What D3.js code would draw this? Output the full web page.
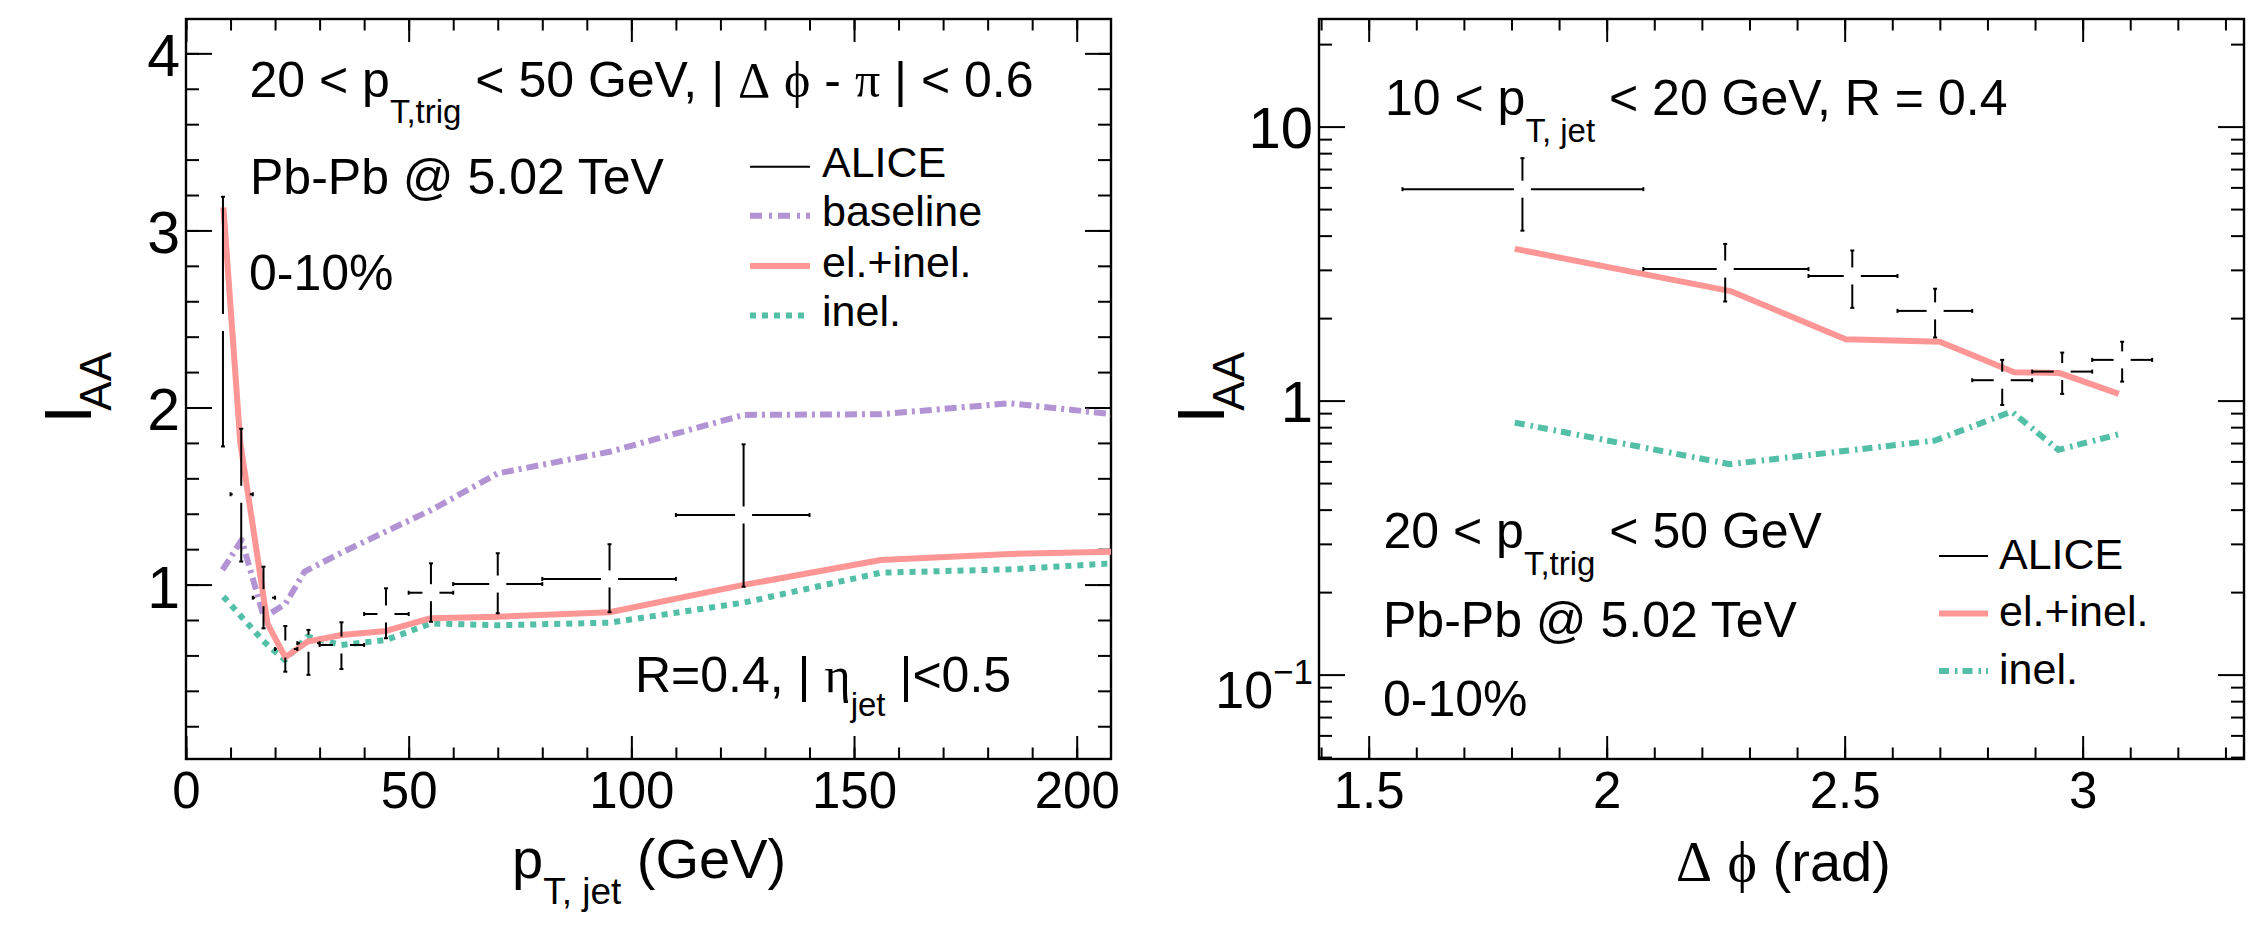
<!DOCTYPE html>
<html><head><meta charset="utf-8">
<script src="https://cdn.jsdelivr.net/npm/d3@7"></script>
<style>
body{margin:0;background:#fff}
svg{display:block}
text{font-family:"Liberation Sans",Arial,Helvetica,sans-serif;white-space:pre;fill:#000}
</style></head>
<body><svg id="c" width="2266" height="943"></svg>
<script>
// ---------------- DATA: left panel (I_AA vs pT,jet) ----------------
const alicePt      = [8.3, 12.4, 17.4, 22.3, 27.5, 34.9, 44.9, 55.0, 70.0, 95.1, 125.2];
const alicePtLo    = [7, 10, 15, 20, 25, 30, 40, 50, 60, 80, 110];
const alicePtHi    = [10, 15, 20, 25, 30, 40, 50, 60, 80, 110, 140];
const aliceIaaPt   = [2.48, 1.51, 0.926, 0.636, 0.669, 0.659, 0.834, 0.954, 1.003, 1.032, 1.393];
const aliceIaaPtLo = [1.78, 1.13, 0.753, 0.508, 0.49, 0.523, 0.697, 0.790, 0.838, 0.844, 0.988];
const aliceIaaPtHi = [3.19, 1.88, 1.101, 0.766, 0.744, 0.787, 0.979, 1.120, 1.177, 1.228, 1.792];

const elinelPtX = [8.4, 12.2, 18.3, 22.3, 27.3, 34.9, 44.9, 55.0, 70.0, 95.1, 125.2, 156.0, 185.0, 208.0];
const elinelPtY = [3.13, 1.80, 0.78, 0.589, 0.678, 0.715, 0.738, 0.810, 0.819, 0.844, 0.998, 1.139, 1.173, 1.186];
const baselinePtX = [8.2, 12.5, 17.5, 22.3, 26.6, 34.9, 44.9, 55.0, 70.0, 95.1, 125.2, 156.0, 185.0, 208.0];
const baselinePtY = [1.083, 1.252, 0.815, 0.89, 1.073, 1.18, 1.30, 1.42, 1.628, 1.75, 1.958, 1.962, 2.024, 1.962];
const inelPtX = [8.4, 17.4, 22.2, 27.3, 34.9, 44.9, 55.0, 70.0, 95.1, 125.2, 156.0, 185.0, 208.0];
const inelPtY = [0.932, 0.68, 0.574, 0.706, 0.659, 0.687, 0.781, 0.77, 0.785, 0.898, 1.067, 1.086, 1.12];

const ptMajorTicks = [0, 50, 100, 150, 200];
const ptMinorTicks = d3.range(0, 208, 10);
const iaaMajorTicks = [1, 2, 3, 4];
const iaaMinorTicks = d3.range(0.2, 4.19, 0.2);

// ---------------- DATA: right panel (I_AA vs delta phi) ----------------
const aliceDphi     = [1.823, 2.249, 2.516, 2.690, 2.831, 2.957, 3.083];
const aliceDphiLo   = [1.571, 2.077, 2.424, 2.611, 2.768, 2.894, 3.020];
const aliceDphiHi   = [2.077, 2.424, 2.611, 2.768, 2.894, 3.020, 3.146];
const aliceIaaPhi   = [5.91, 3.02, 2.85, 2.125, 1.187, 1.276, 1.408];
const aliceIaaPhiLo = [4.17, 2.30, 2.18, 1.70, 0.964, 1.058, 1.173];
const aliceIaaPhiHi = [7.67, 3.73, 3.53, 2.56, 1.408, 1.497, 1.64];

const elinelPhiX = [1.807, 2.260, 2.502, 2.700, 2.856, 2.952, 3.076];
const elinelPhiY = [3.58, 2.51, 1.675, 1.64, 1.27, 1.26, 1.058];
const inelPhiX = [1.807, 2.259, 2.690, 2.851, 2.949, 3.076];
const inelPhiY = [0.831, 0.586, 0.715, 0.912, 0.661, 0.754];

const phiMajorTicks = [1.5, 2, 2.5, 3];
const phiMinorTicks = d3.range(1.4, 3.34, 0.1);
const logMajorTicks = [0.1, 1, 10];
const logMinorTicks = [0.05,0.06,0.07,0.08,0.09,0.2,0.3,0.4,0.5,0.6,0.7,0.8,0.9,2,3,4,5,6,7,8,9,20];

// ---------------- STYLE ----------------
const SALMON = '#ff9696', TEAL = '#52bfa6', PURPLE = '#b293d4';
const SERIF = '"Liberation Serif","DejaVu Serif",serif';
const TOP = 19, BOT = 759;

const svg = d3.select('#c');

// scales
const xL = d3.scaleLinear().domain([0, 207.7]).range([186, 1111]);
const yL = d3.scaleLinear().domain([0.015, 4.194]).range([BOT, TOP]);
const xR = d3.scaleLinear().domain([1.3956, 3.339]).range([1319, 2244]);
const yR = d3.scaleLog().domain([0.0492, 24.7]).range([BOT, TOP]);

// clip paths
const defs = svg.append('defs');
defs.append('clipPath').attr('id','clipL').append('rect').attr('x',186).attr('y',TOP).attr('width',925).attr('height',BOT-TOP);
defs.append('clipPath').attr('id','clipR').append('rect').attr('x',1319).attr('y',TOP).attr('width',925).attr('height',BOT-TOP);

function styleAxis(g){
  g.select('.domain').remove();
  g.selectAll('.tick line').attr('stroke','#000').attr('stroke-width',2);
  g.attr('font-family',null).attr('font-size',null);
}

function drawAxes(x, y, xMaj, xMin, yMaj, yMin, xFmt, yFmt, xFs, yFs){
  const x0 = x.range()[0], x1 = x.range()[1];
  // bottom
  svg.append('g').attr('transform',`translate(0,${BOT})`)
    .call(d3.axisBottom(x).tickValues(xMin).tickSize(-11.5).tickFormat('')).call(styleAxis);
  const gb = svg.append('g').attr('transform',`translate(0,${BOT})`)
    .call(d3.axisBottom(x).tickValues(xMaj).tickSize(-23).tickPadding(13).tickFormat(xFmt)).call(styleAxis);
  gb.selectAll('text').attr('font-size',xFs).attr('fill','#000');
  // top
  svg.append('g').attr('transform',`translate(0,${TOP})`)
    .call(d3.axisTop(x).tickValues(xMin).tickSize(-11.5).tickFormat('')).call(styleAxis);
  svg.append('g').attr('transform',`translate(0,${TOP})`)
    .call(d3.axisTop(x).tickValues(xMaj).tickSize(-23).tickFormat('')).call(styleAxis);
  // left
  svg.append('g').attr('transform',`translate(${x0},0)`)
    .call(d3.axisLeft(y).tickValues(yMin).tickSize(-13).tickFormat('')).call(styleAxis);
  const gl = svg.append('g').attr('transform',`translate(${x0},0)`)
    .call(d3.axisLeft(y).tickValues(yMaj).tickSize(-26).tickPadding(6).tickFormat(yFmt || '')).call(styleAxis);
  gl.selectAll('text').attr('font-size',yFs).attr('dy','0.38em').attr('fill','#000');
  // right
  svg.append('g').attr('transform',`translate(${x1},0)`)
    .call(d3.axisRight(y).tickValues(yMin).tickSize(-13).tickFormat('')).call(styleAxis);
  svg.append('g').attr('transform',`translate(${x1},0)`)
    .call(d3.axisRight(y).tickValues(yMaj).tickSize(-26).tickFormat('')).call(styleAxis);
  // frame
  svg.append('rect').attr('x',x0).attr('y',TOP).attr('width',x1-x0).attr('height',BOT-TOP)
    .attr('fill','none').attr('stroke','#000').attr('stroke-width',2.4);
}

function rich(x, y, parts, g){
  const t = (g || svg).append('text').attr('x',x).attr('y',y);
  let cur = 0;
  parts.forEach(p => {
    const s = t.append('tspan').text(p.t).attr('font-size', p.s);
    if (p.f) s.attr('font-family', p.f);
    if (p.x !== undefined) s.attr('x', p.x);
    const d = (p.dy || 0) - cur;
    if (d) s.attr('dy', d);
    cur = p.dy || 0;
  });
  return t;
}

function drawErrors(g, x, y, xc, xlo, xhi, yc, ylo, yhi){
  const gap = 8.5, cap = 2;
  const seg = (x1,y1,x2,y2) => g.append('line').attr('x1',x1).attr('y1',y1).attr('x2',x2).attr('y2',y2)
      .attr('stroke','#000').attr('stroke-width',2);
  xc.forEach((v,i) => {
    const px = x(v), py = y(yc[i]);
    const pl = x(xlo[i]), pr = x(xhi[i]);
    const pt = y(yhi[i]), pb = y(ylo[i]);
    if (px - gap > pl) { seg(pl, py, px - gap, py); seg(pl, py-cap, pl, py+cap); }
    if (pr > px + gap) { seg(px + gap, py, pr, py); seg(pr, py-cap, pr, py+cap); }
    if (py - gap > pt) { seg(px, pt, px, py - gap); seg(px-cap, pt, px+cap, pt); }
    if (pb > py + gap) { seg(px, py + gap, px, pb); seg(px-cap, pb, px+cap, pb); }
  });
}

function curve(g, x, y, xs, ys, color, width, dash){
  const p = g.append('path').datum(d3.zip(xs, ys))
    .attr('d', d3.line().x(d => x(d[0])).y(d => y(d[1])))
    .attr('fill','none').attr('stroke',color).attr('stroke-width',width)
    .attr('stroke-linejoin','round');
  if (dash) p.attr('stroke-dasharray', dash);
  return p;
}

// ================= LEFT PANEL =================
drawAxes(xL, yL, ptMajorTicks, ptMinorTicks, iaaMajorTicks, iaaMinorTicks, d3.format('d'), d3.format('d'), 51, 59);
const gL = svg.append('g').attr('clip-path','url(#clipL)');
curve(gL, xL, yL, baselinePtX, baselinePtY, PURPLE, 6, '12,5,3,5');
curve(gL, xL, yL, inelPtX, inelPtY, TEAL, 6, '6,6');
curve(gL, xL, yL, elinelPtX, elinelPtY, SALMON, 6);
drawErrors(gL, xL, yL, alicePt, alicePtLo, alicePtHi, aliceIaaPt, aliceIaaPtLo, aliceIaaPtHi);

rich(249.5, 96.7, [
  {t:'20 < p', s:50}, {t:'T,trig', s:33, dy:26.6}, {t:' < 50 GeV, | ', s:50},
  {t:'\u0394', s:50, f:SERIF}, {t:' ', s:50}, {t:'\u03D5', s:50, f:SERIF}, {t:' - ', s:50},
  {t:'\u03C0', s:50, f:SERIF}, {t:' | < 0.6', s:50}
]);
rich(250, 194.3, [{t:'Pb-Pb @ 5.02 TeV', s:50}]);
rich(249, 290, [{t:'0-10%', s:50}]);
rich(635, 691.7, [
  {t:'R=0.4, | ', s:50}, {t:'\u03B7', s:50, f:SERIF}, {t:'jet', s:33, dy:24}, {t:' |<0.5', s:50}
]);

// legend left
const legL = [
  {label:'ALICE', color:'#000', w:2, dash:null, y:166.7},
  {label:'baseline', color:PURPLE, w:6, dash:'12,7,3,6', y:215.7},
  {label:'el.+inel.', color:SALMON, w:6, dash:null, y:266},
  {label:'inel.', color:TEAL, w:6, dash:'6,6', y:315.5}
];
legL.forEach(d => {
  const l = svg.append('line').attr('x1',750).attr('x2',810).attr('y1',d.y).attr('y2',d.y)
    .attr('stroke',d.color).attr('stroke-width',d.w);
  if (d.dash) l.attr('stroke-dasharray',d.dash);
  rich(822, d.y + 10.6, [{t:d.label, s:43}]);
});

// axis titles left
rich(512, 878, [{t:'p', s:56}, {t:'T, jet', s:37, dy:26}, {t:' (GeV)', s:56}]);
const ytL = svg.append('g').attr('transform','translate(91,423.7) rotate(-90)');
rich(0, 0, [{t:'I', s:67}, {t:'AA', s:44, dy:20, x:13}], ytL);

// ================= RIGHT PANEL =================
drawAxes(xR, yR, phiMajorTicks, phiMinorTicks, logMajorTicks, logMinorTicks, d3.format('~g'), null, 51, 58);
// log tick labels
logMajorTicks.forEach(v => {
  const py = yR(v);
  if (v >= 1) {
    rich(1313, py + 21, [{t: d3.format('d')(v), s:58}]).attr('text-anchor','end');
  } else {
    const e = Math.round(Math.log10(v));
    rich(1313, py + 33, [{t:'10', s:52}, {t:'\u2212' + Math.abs(e), s:35, dy:-24}]).attr('text-anchor','end');
  }
});
const gR = svg.append('g').attr('clip-path','url(#clipR)');
curve(gR, xR, yR, inelPhiX, inelPhiY, TEAL, 6, '10,6,2.5,5');
curve(gR, xR, yR, elinelPhiX, elinelPhiY, SALMON, 6);
drawErrors(gR, xR, yR, aliceDphi, aliceDphiLo, aliceDphiHi, aliceIaaPhi, aliceIaaPhiLo, aliceIaaPhiHi);

rich(1385, 115, [{t:'10 < p', s:50}, {t:'T, jet', s:33, dy:26.6}, {t:' < 20 GeV, R = 0.4', s:50}]);
rich(1383.5, 548.3, [{t:'20 < p', s:50}, {t:'T,trig', s:33, dy:26.6}, {t:' < 50 GeV', s:50}]);
rich(1383, 637, [{t:'Pb-Pb @ 5.02 TeV', s:50}]);
rich(1383, 716, [{t:'0-10%', s:50}]);

const legR = [
  {label:'ALICE', color:'#000', w:2, dash:null, y:556},
  {label:'el.+inel.', color:SALMON, w:6, dash:null, y:613.5},
  {label:'inel.', color:TEAL, w:6, dash:'10,6,2.5,5', y:671}
];
legR.forEach(d => {
  const l = svg.append('line').attr('x1',1939).attr('x2',1988).attr('y1',d.y).attr('y2',d.y)
    .attr('stroke',d.color).attr('stroke-width',d.w);
  if (d.dash) l.attr('stroke-dasharray',d.dash);
  rich(1999, d.y + 12.5, [{t:d.label, s:43}]);
});

rich(1676, 880.7, [{t:'\u0394', s:56, f:SERIF}, {t:' ', s:56}, {t:'\u03D5', s:56, f:SERIF}, {t:' (rad)', s:56}]);
const ytR = svg.append('g').attr('transform','translate(1224,423.7) rotate(-90)');
rich(0, 0, [{t:'I', s:67}, {t:'AA', s:44, dy:20, x:13}], ytR);
</script>
</body></html>
